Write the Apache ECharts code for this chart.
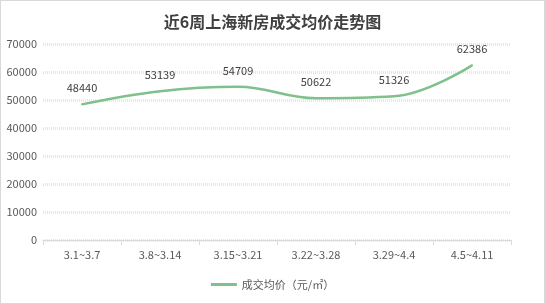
<!DOCTYPE html>
<html><head><meta charset="utf-8">
<script src="https://cdn.jsdelivr.net/npm/echarts@6/dist/echarts.min.js"></script>
<style>html,body{margin:0;padding:0;background:#fff}#c{width:545px;height:304px;box-sizing:border-box;border:1px solid #d9d9d9}</style>
</head><body><div id="c"></div>
<script>
const categories = ['3.1~3.7','3.8~3.14','3.15~3.21','3.22~3.28','3.29~4.4','4.5~4.11'];
const values = [48440, 53139, 54709, 50622, 51326, 62386];
const seriesName = '成交均价（元/㎡）';
const titleText = '近6周上海新房成交均价走势图';
const font = '"Microsoft YaHei","Noto Sans CJK SC","Noto Sans",sans-serif';
const chart = echarts.init(document.getElementById('c'), null, {renderer:'canvas'});
chart.setOption({
  animation:false,
  textStyle:{fontFamily:font},
  title:{text:titleText,left:'center',top:8,textStyle:{fontSize:16,fontWeight:'bold',color:'#404040',fontFamily:font}},
  legend:{bottom:8,left:'center',itemWidth:26,itemHeight:3,icon:'rect',itemGap:4,
    itemStyle:{color:'#80c08c',opacity:1},
    textStyle:{fontSize:11,color:'#595959',fontFamily:font},data:[seriesName]},
  grid:{left:42,right:33,top:43,bottom:63},
  xAxis:{type:'category',data:categories,boundaryGap:true,
    axisLine:{lineStyle:{color:'#d9d9d9'}},axisTick:{show:true,length:5,lineStyle:{color:'#d9d9d9'}},
    axisLabel:{fontSize:11,color:'#595959',margin:9,fontFamily:font}},
  yAxis:{type:'value',min:0,max:70000,interval:10000,
    axisLine:{show:false},axisTick:{show:false},
    axisLabel:{fontSize:11,color:'#595959',margin:6,fontFamily:font,formatter:v=>String(v)},
    splitLine:{lineStyle:{color:'#e6e6e6',width:3,type:[1,1]}}},
  series:[{name:seriesName,type:'line',data:values,smooth:0.4,showSymbol:true,symbol:'circle',symbolSize:2,
    lineStyle:{color:'#80c08c',width:2.5},itemStyle:{color:'#80c08c'},
    label:{show:true,position:'top',distance:10,fontSize:11,color:'#404040',fontFamily:font}}]
});
</script></body></html>
